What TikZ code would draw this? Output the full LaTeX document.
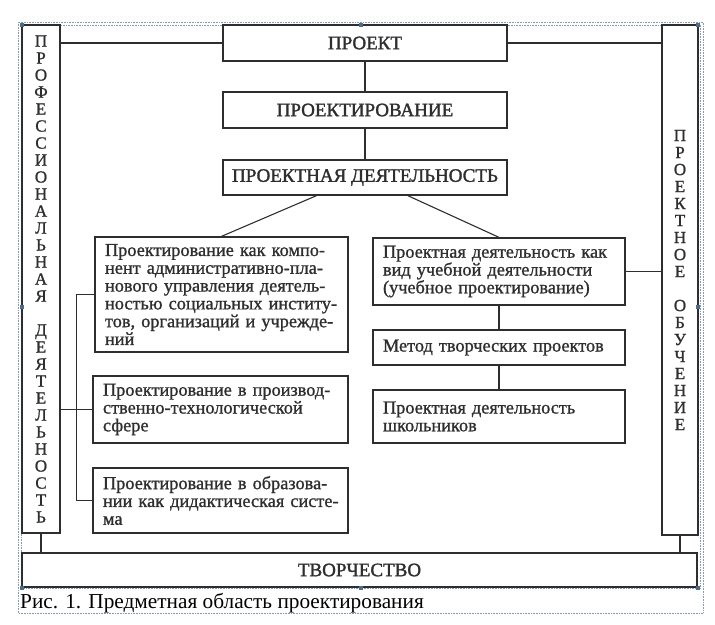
\documentclass[tikz,border=0pt]{standalone}
\usepackage{fontspec}
\setmainfont{Liberation Serif}
\newfontfamily\bx[FakeBold=1]{Liberation Serif}
\newfontfamily\hd[FakeBold=1.6]{Liberation Serif}
\usetikzlibrary{calc}
\definecolor{ink}{HTML}{2E2E2E}
\definecolor{sel}{HTML}{8A9AAE}
\definecolor{handle}{HTML}{4F6B8C}
\begin{document}
\begin{tikzpicture}[x=1pt,y=-1pt,
  box/.style={draw=ink, line width=1.3pt, inner sep=0pt, text=ink},
  head/.style={box, font=\hd\fontsize{19}{20}\selectfont},
  txt/.style={box, align=left, inner xsep=10pt, font=\bx\fontsize{18.3}{17.8}\selectfont},
  vert/.style={box, align=center, font=\bx\fontsize{17}{17}\selectfont},
  wire/.style={draw=ink, line width=1.1pt},
  selframe/.style={draw=sel, densely dotted, line width=0.6pt},
  hnd/.style={fill=handle, draw=none, minimum size=4pt, inner sep=0pt}]
\useasboundingbox (0,0) rectangle (715,624);
\fill[white] (0,0) rectangle (715,624);
% selection frames
\draw[selframe] (18,22) rectangle (703,613);
\draw[selframe] (21,25) rectangle (700,588);
% central column
\node[head, minimum width=284pt, minimum height=36pt] (proekt) at (365,43) {ПРОЕКТ};
\node[head, minimum width=284pt, minimum height=36pt] (proektir) at (365,110) {ПРОЕКТИРОВАНИЕ};
\node[head, minimum width=284pt, minimum height=35pt] (pd) at (365,177.5) {ПРОЕКТНАЯ ДЕЯТЕЛЬНОСТЬ};
% left branch
\node[txt, text width=233pt, minimum height=115pt] (L1) at (221.5,294.5)
  {\mbox{Проектирование как компо-}\\\mbox{нент административно-пла-}\\\mbox{нового управления деятель-}\\\mbox{ностью социальных институ-}\\\mbox{тов, организаций и учрежде-}\\ний};
\node[txt, text width=235pt, minimum height=67pt] (L2) at (220.5,409.5)
  {\mbox{Проектирование в производ-}\\\mbox{ственно-технологической}\\сфере};
\node[txt, text width=235pt, minimum height=65pt] (L3) at (220.5,500.5)
  {\mbox{Проектирование в образова-}\\\mbox{нии как дидактическая систе-}\\ма};
% right branch
\node[txt, text width=232pt, minimum height=67pt] (R1) at (499,271.5)
  {\mbox{Проектная деятельность как}\\\mbox{вид учебной деятельности}\\\mbox{(учебное проектирование)}};
\node[txt, text width=232pt, minimum height=35pt] (R2) at (499,347.5)
  {\mbox{Метод творческих проектов}};
\node[txt, text width=232pt, minimum height=53pt] (R3) at (499,416.5)
  {\mbox{Проектная деятельность}\\школьников};
% side columns
\node[vert, minimum width=38pt, minimum height=508pt] (LV) at (41,279)
  {П\\Р\\О\\Ф\\Е\\С\\С\\И\\О\\Н\\А\\Л\\Ь\\Н\\А\\Я\\[17pt]Д\\Е\\Я\\Т\\Е\\Л\\Ь\\Н\\О\\С\\Т\\Ь};
\node[vert, minimum width=36pt, minimum height=510pt] (RV) at (680,280)
  {П\\Р\\О\\Е\\К\\Т\\Н\\О\\Е\\[17pt]О\\Б\\У\\Ч\\Е\\Н\\И\\Е};
% bottom
\node[head, minimum width=675pt, minimum height=34pt] (TV) at (359.5,570) {ТВОРЧЕСТВО};
% connectors
\draw[wire] (proekt.west) -- (proekt.west -| LV.east);
\draw[wire] (proekt.east) -- (proekt.east -| RV.west);
\draw[wire] (proekt.south) -- (proektir.north);
\draw[wire] (proektir.south) -- (pd.north);
\draw[wire] ($(pd.south west)!0.33!(pd.south east)$) -- (L1.north);
\draw[wire] ($(pd.south west)!0.65!(pd.south east)$) -- (R1.north);
\draw[wire] (R1.east) -- (R1.east -| RV.west);
\draw[wire] (R1.south) -- (R2.north);
\draw[wire] (R2.south) -- (R3.north);
\draw[wire] (L1.west) -- ++(-18,0) |- (L3.west);
\draw[wire] (L2.west) -- (L2.west -| LV.east);
\draw[wire] (LV.south) -- (LV.south |- TV.north);
\draw[wire] (RV.south) -- (RV.south |- TV.north);
% caption
\node[anchor=west, inner sep=0pt, font=\fontsize{21.3}{22}\selectfont] (cap) at (20,603)
  {Рис. 1. Предметная область проектирования};
% selection handles
\foreach \p in {(22,25),(361,25),(698,25),(22,307),(698,307),(22,588),(361,588),(698,588)}
  \node[hnd] at \p {};
\end{tikzpicture}
\end{document}
